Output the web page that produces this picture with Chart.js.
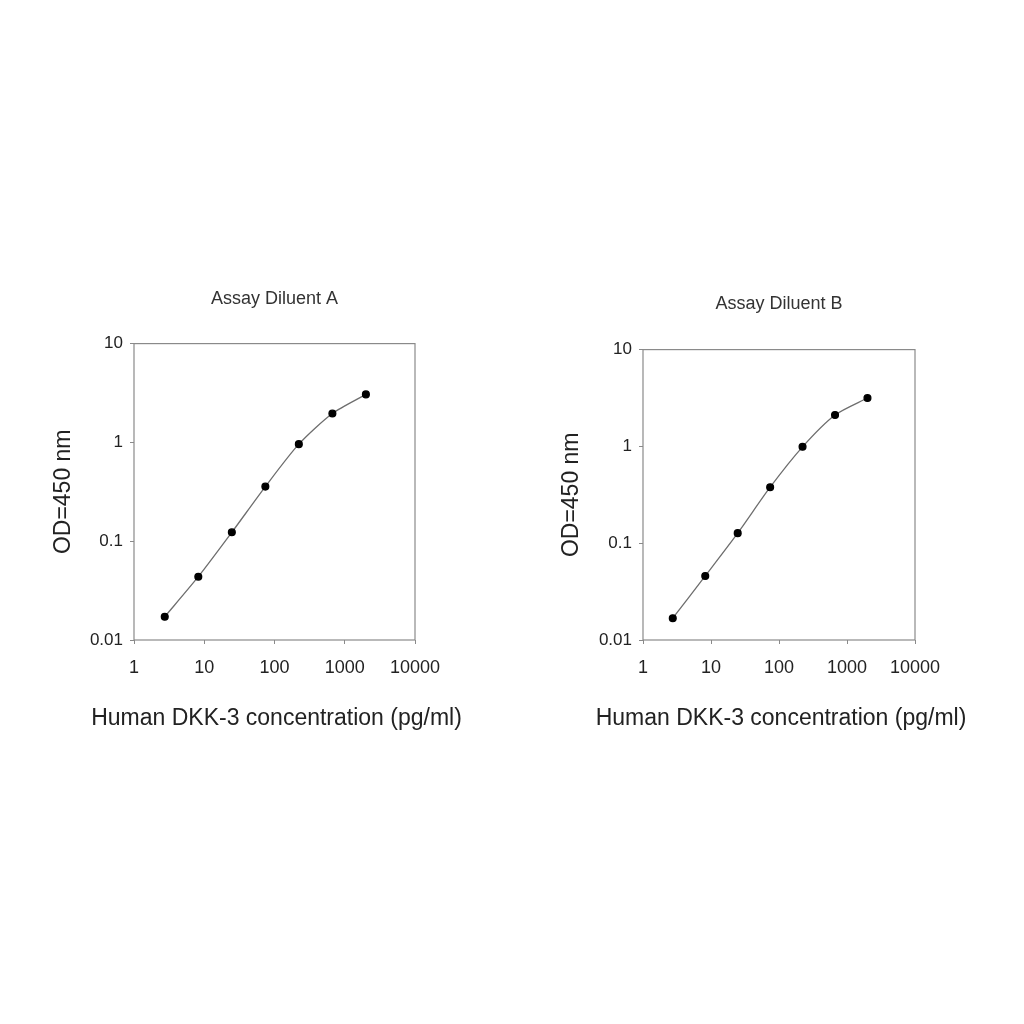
<!DOCTYPE html>
<html>
<head>
<meta charset="utf-8">
<script src="https://cdn.jsdelivr.net/npm/chart.js@4.4.0/dist/chart.umd.min.js"></script>
<style>
  body { margin: 0; background: #fff; width: 1024px; height: 1024px; position: relative; }
  .box { position: absolute; }
  #boxA { left: 40px; top: 280px; width: 440px; height: 460px; }
  #boxB { left: 548px; top: 280px; width: 440px; height: 460px; }
</style>
</head>
<body>
<div class="box" id="boxA"><canvas id="chartA"></canvas></div>
<div class="box" id="boxB"><canvas id="chartB"></canvas></div>
<script>
const concentrations = [2.74, 8.23, 24.7, 74.1, 222, 667, 2000];
const odDiluentA = [0.0172, 0.0437, 0.123, 0.357, 0.96, 1.96, 3.06];
const odDiluentB = [0.0168, 0.0459, 0.127, 0.379, 0.99, 2.11, 3.16];
const xTickValues = [1, 10, 100, 1000, 10000];
const yTickValues = [0.01, 0.1, 1, 10];
const xCaption = 'Human DKK-3 concentration (pg/ml)';

Chart.defaults.font.family = '"Liberation Sans", Arial, sans-serif';
Chart.defaults.color = '#222';

// frame around the plot area
const frameBox = {
    id: 'frameBox',
    afterDraw(chart) {
        const a = chart.chartArea;
        const ctx = chart.ctx;
        ctx.save();
        ctx.strokeStyle = '#8a8a8a';
        ctx.lineWidth = 1.2;
        ctx.strokeRect(a.left, a.top, a.right - a.left, a.bottom - a.top);
        ctx.restore();
    }
};

// x axis caption is wider than the plot, so the scale title would squeeze it
const axisCaption = {
    id: 'axisCaption',
    afterDraw(chart, args, opts) {
        const a = chart.chartArea;
        const ctx = chart.ctx;
        ctx.save();
        ctx.font = '23px "Liberation Sans", Arial, sans-serif';
        ctx.fillStyle = '#222';
        ctx.textAlign = 'center';
        ctx.textBaseline = 'middle';
        ctx.fillText(opts.text, (a.left + a.right) / 2 + 2, a.bottom + 79);
        ctx.restore();
    }
};

function makeChart(id, title, values, cfg) {
    const ctx = document.getElementById(id).getContext('2d');
    return new Chart(ctx, {
        type: 'line',
        data: {
            datasets: [{
                label: title,
                data: concentrations.map((c, i) => ({ x: c, y: values[i] })),
                borderColor: '#6e6e6e',
                borderWidth: 1.3,
                tension: 0.25,
                pointRadius: 3.4,
                pointBackgroundColor: '#000',
                pointBorderColor: '#000',
                fill: false
            }]
        },
        options: {
            responsive: true,
            maintainAspectRatio: false,
            animation: false,
            layout: { padding: { top: 0, right: cfg.right, bottom: 0, left: 0 } },
            plugins: {
                legend: { display: false },
                tooltip: { enabled: false },
                title: {
                    display: true,
                    text: title,
                    fullSize: false,
                    color: '#333',
                    font: { size: 18, weight: 'normal' },
                    padding: { top: cfg.titleTop, bottom: cfg.titleBottom }
                },
                axisCaption: { text: xCaption }
            },
            scales: {
                x: {
                    type: 'logarithmic',
                    min: 1,
                    max: 10000,
                    afterBuildTicks: s => { s.ticks = xTickValues.map(v => ({ value: v })); },
                    afterFit: s => { s.height = 100; },
                    ticks: {
                        autoSkip: false,
                        maxRotation: 0,
                        padding: 13,
                        font: { size: 18 },
                        callback: v => String(v)
                    },
                    grid: { drawOnChartArea: false, tickLength: 4, color: '#8a8a8a' },
                    border: { display: false }
                },
                y: {
                    type: 'logarithmic',
                    min: 0.01,
                    max: 10,
                    afterBuildTicks: s => { s.ticks = yTickValues.map(v => ({ value: v })); },
                    afterFit: s => { s.width = cfg.yWidth; },
                    ticks: {
                        autoSkip: false,
                        padding: 7,
                        font: { size: 17 },
                        callback: v => String(v)
                    },
                    grid: { drawOnChartArea: false, tickLength: 4, color: '#8a8a8a' },
                    border: { display: false },
                    title: {
                        display: true,
                        text: 'OD=450 nm',
                        font: { size: 23 },
                        color: '#222',
                        padding: { top: 10, bottom: 0 }
                    }
                }
            }
        },
        plugins: [frameBox, axisCaption]
    });
}

makeChart('chartA', 'Assay Diluent A', odDiluentA, { yWidth: 94, right: 65, titleTop: 8, titleBottom: 34 });
makeChart('chartB', 'Assay Diluent B', odDiluentB, { yWidth: 95, right: 73, titleTop: 13, titleBottom: 35 });
</script>
</body>
</html>
